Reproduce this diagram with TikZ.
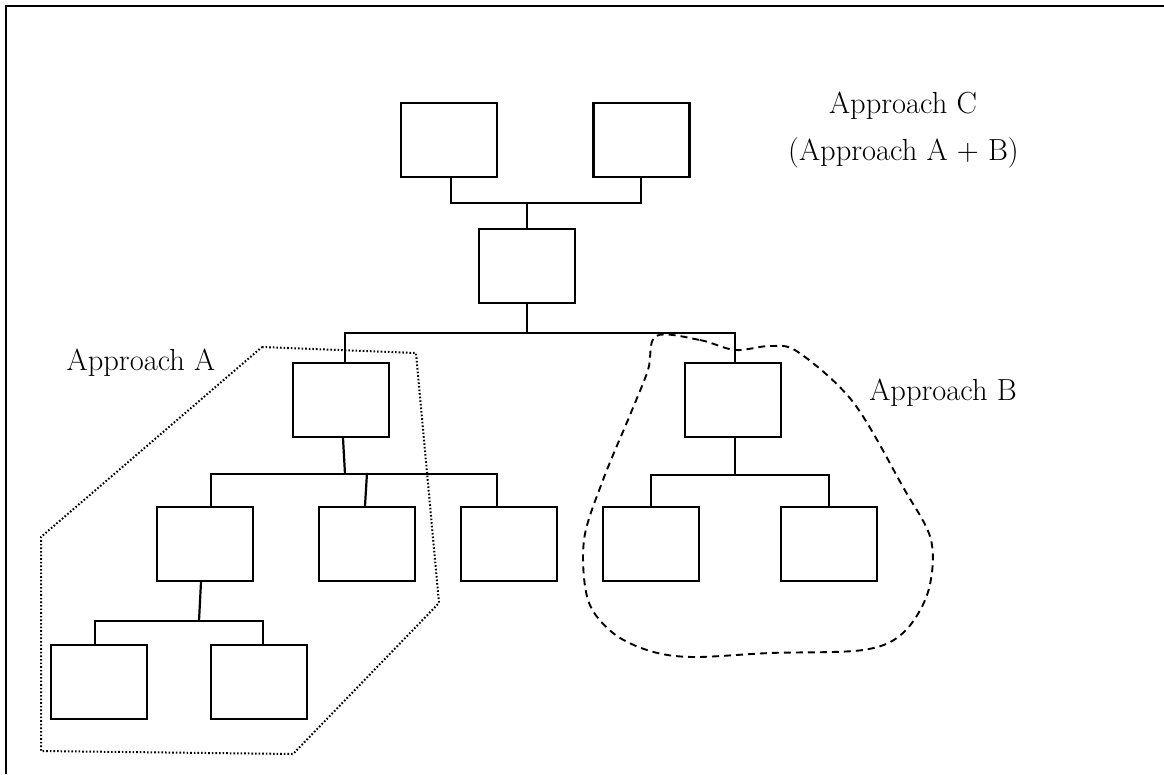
\documentclass[tikz,border=0pt]{standalone}
\usepackage{fontspec}
\setmainfont{Latin Modern Roman}
\begin{document}
\begin{tikzpicture}[x=1pt,y=-1pt,
  boxnode/.style={draw,line width=2.2pt,minimum width=96pt,minimum height=74pt,inner sep=0pt},
  wire/.style={line width=2.2pt},
  lbl/.style={anchor=base,inner sep=0pt,font=\fontsize{30.5}{36}\selectfont},
  dotline/.style={line width=2pt,dash pattern=on 1.6pt off 2pt},
  dashline/.style={line width=1.9pt,dash pattern=on 7pt off 5pt}]
\useasboundingbox (0,0) rectangle (1164,774);
% frame
\draw[line width=2.6pt] (6,774) -- (6,6) -- (1164,6);
% boxes
\node[boxnode] (t1) at (449,140) {};
\node[boxnode] (t2) at (641.5,140) {};
\node[boxnode] (m) at (527,266) {};
\node[boxnode] (a) at (341,400) {};
\node[boxnode] (b) at (733,400) {};
\node[boxnode] (a1) at (205,544) {};
\node[boxnode] (a2) at (367,544) {};
\node[boxnode] (a3) at (509,544) {};
\node[boxnode] (b1) at (651,544) {};
\node[boxnode] (b2) at (829,544) {};
\node[boxnode] (a11) at (99,682) {};
\node[boxnode] (a12) at (259,682) {};
% bus points
\coordinate (bus1) at (527,203);
\coordinate (bus2) at (527,333);
\coordinate (bus3) at (345,474);
\coordinate (bus4) at (735,475);
\coordinate (bus5) at (199,621);
% connectors
\draw[wire] ([xshift=2]t1.south) |- (bus1) -| ([xshift=-0.5]t2.south);
\draw[wire] (bus1) -- (m.north);
\draw[wire] (m.south) -- (bus2);
\draw[wire] ([xshift=4]a.north) |- (bus2) -| ([xshift=2]b.north);
\draw[wire] ([xshift=2]a.south) -- (bus3);
\draw[wire] ([xshift=6]a1.north) |- (bus3) -| ([xshift=-12]a3.north);
\draw[wire] ([xshift=-2]a2.north) -- ++(2,-33);
\draw[wire] ([xshift=2]b.south) -- (bus4);
\draw[wire] (b1.north) |- (bus4) -| (b2.north);
\draw[wire] ([xshift=-4]a1.south) -- (bus5);
\draw[wire] ([xshift=-4]a11.north) |- (bus5) -| ([xshift=4]a12.north);
% approach A region (dotted)
\draw[dotline] (262,347) -- (416,353) -- (439,603) -- (293,754) -- (41,751) -- (41,537) -- cycle;
% approach B region (dashed)
\draw[dashline] plot[smooth cycle,tension=0.55] coordinates {
  (656,336) (700,340) (735,350) (770,346) (798,352) (853,402) (903,487)
  (931,540) (928,592) (903,633) (863,650) (770,653) (693,657)
  (650,651) (613,633) (588,600) (584,540) (603,480) (630,415) (648,370)};
% labels
\node[lbl] (lc) at (903,113) {Approach C};
\node[lbl] (lab) at (903.5,160) {(Approach A + B)};
\node[lbl] (la) at (141,370) {Approach A};
\node[lbl] (lb) at (943,400) {Approach B};
\end{tikzpicture}
\end{document}
